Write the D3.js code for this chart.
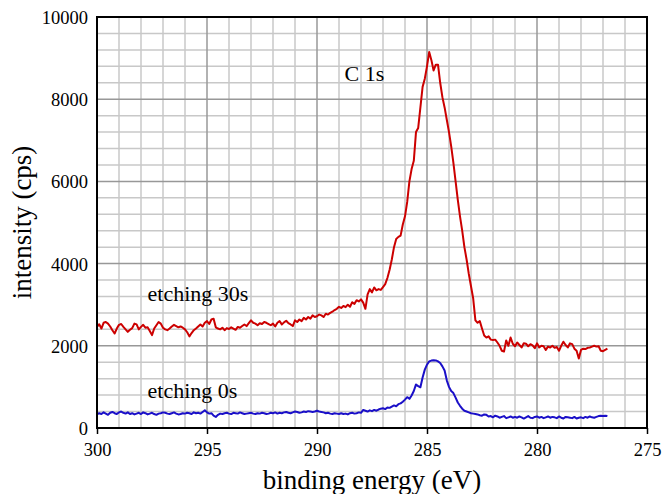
<!DOCTYPE html>
<html>
<head>
<meta charset="utf-8">
<script src="https://cdn.jsdelivr.net/npm/d3@7"></script>
<style>
  body { margin: 0; background: #fff; }
  svg { display: block; font-family: "Liberation Serif", "Times New Roman", serif; }
  .tick text { font-family: "Liberation Serif", "Times New Roman", serif; font-size: 18.5px; fill: #000; }
  .grid-minor { stroke: #c8c8c8; stroke-width: 1.5; }
  .grid-major { stroke: #989898; stroke-width: 1.5; }
</style>
</head>
<body>
<div id="wrapper"></div>
<script>
// spectra, 0.1 eV steps from 300 eV downwards
const energyStart = 300
const energyStep = 0.1

const etching30s = [
  2460, 2525, 2420, 2560, 2580, 2540, 2470, 2380, 2300, 2420,
  2510, 2530, 2460, 2400, 2340, 2390, 2430, 2540, 2520, 2400,
  2460, 2510, 2440, 2450, 2360, 2260, 2420, 2500, 2580, 2540,
  2440, 2400, 2380, 2420, 2470, 2510, 2480, 2450, 2470, 2440,
  2400, 2330, 2230, 2310, 2380, 2420, 2470, 2520, 2470, 2560,
  2600, 2530, 2640, 2660, 2450, 2420, 2400, 2440, 2380, 2430,
  2410, 2450, 2420, 2390, 2460, 2440, 2480, 2520, 2480, 2550,
  2620, 2560, 2540, 2500, 2550, 2530, 2580, 2560, 2530, 2500,
  2540, 2470, 2560, 2600, 2520, 2570, 2610, 2550, 2520, 2480,
  2620, 2580, 2640, 2600, 2680, 2640, 2700, 2660, 2740, 2700,
  2720, 2760, 2740, 2700, 2780, 2760, 2800, 2830, 2870, 2900,
  2950, 2920, 2970, 2940, 3000, 2950, 3060, 3020, 3110, 3080,
  3130, 3050, 2900, 3250, 3380, 3300, 3420, 3350, 3380, 3360,
  3430, 3500, 3650, 3850, 4100, 4400, 4600, 4650, 4680, 4950,
  5150, 5500, 6000, 6300, 6500, 7200, 7300, 7800, 8300, 8500,
  8800, 9150, 8950, 8700, 8840, 8840, 8400, 8050, 7800, 7500,
  7200, 6850, 6450, 6000, 5550, 5150, 4800, 4400, 4100, 3750,
  3450, 3150, 2620, 2560, 2600, 2420, 2250, 2200, 2230, 2150,
  2140, 2150, 2080, 2000, 1880, 1860, 2130, 2000, 2200, 2050,
  1990, 2080, 2020, 1960, 2060, 2050, 1990, 2040, 2010, 1940,
  2060, 1960, 2000, 1990, 1900, 1980, 1960, 2000, 1950, 1970,
  1880, 2000, 2100, 2020, 1960, 2060, 2040, 1930, 1880, 1690,
  1900, 1930, 1920, 1950, 1960, 1980, 2000, 1980, 1990, 1880,
  1870, 1900, 1930
]

const etching0s = [
  330, 360, 340, 380, 350, 320, 370, 390, 360, 340,
  380, 400, 370, 350, 380, 340, 360, 330, 350, 370,
  340, 380, 360, 330, 350, 370, 340, 320, 350, 360,
  380, 370, 350, 340, 360, 380, 350, 330, 340, 360,
  350, 370, 360, 340, 380, 360, 370, 350, 390, 430,
  380, 350, 360, 300, 270, 320, 350, 340, 360, 370,
  350, 340, 370, 360, 350, 380, 360, 340, 350, 360,
  370, 350, 340, 360, 350, 370, 360, 340, 350, 370,
  360, 380, 350, 370, 360, 380, 390, 370, 360, 380,
  400, 390, 370, 380, 400, 390, 410, 400, 390, 400,
  420, 400, 390, 380, 360, 370, 350, 340, 360, 350,
  340, 360, 340, 350, 330, 360, 370, 350, 360, 380,
  370, 440, 420, 400, 430, 410, 440, 420, 450, 470,
  480, 460, 500, 490, 520, 550, 530, 580, 600, 640,
  690, 750, 710, 790, 900, 1060, 1020, 990, 1230, 1420,
  1540, 1620, 1640, 1650, 1645, 1620, 1580, 1500, 1400, 1160,
  1000, 900, 850, 740, 620, 540, 470, 420, 400, 380,
  360, 350, 340, 330, 310, 300, 330, 320, 280, 290,
  260, 300, 280, 250, 270, 290, 240, 260, 280, 250,
  270, 250, 280, 260, 230, 260, 290, 250, 240, 270,
  280, 250, 270, 240, 260, 280, 250, 270, 260, 240,
  280, 250, 230, 270, 260, 250, 240, 270, 230, 250,
  260, 240, 270, 250, 280, 260, 250, 270, 290, 300,
  290, 300, 290
]

const xTicks = [300, 295, 290, 285, 280, 275]
const yTicks = [0, 2000, 4000, 6000, 8000, 10000]

const seriesNames = ["etching 30s", "etching 0s"]
const seriesColors = ["#cc0000", "#1a0fc8"]

const toPoints = values => values.map((v, i) => ({ energy: energyStart - i * energyStep, counts: v }))

let dimensions = {
  width: 662,
  height: 494,
  margin: { top: 17, right: 15, bottom: 66, left: 97 },
}
dimensions.boundedWidth = dimensions.width - dimensions.margin.left - dimensions.margin.right
dimensions.boundedHeight = dimensions.height - dimensions.margin.top - dimensions.margin.bottom

const wrapper = d3.select("#wrapper")
  .append("svg")
    .attr("width", dimensions.width)
    .attr("height", dimensions.height)

const bounds = wrapper.append("g")
  .attr("transform", `translate(${dimensions.margin.left},${dimensions.margin.top})`)

// scales (binding energy runs right to left)
const xScale = d3.scaleLinear()
  .domain([300, 275])
  .range([0, dimensions.boundedWidth])

const yScale = d3.scaleLinear()
  .domain([0, 10000])
  .range([dimensions.boundedHeight, 0])

// grid
const grid = bounds.append("g")
grid.selectAll(".vx")
  .data(d3.range(276, 300).filter(d => d % 5 !== 0))
  .enter().append("line")
    .attr("class", "grid-minor")
    .attr("x1", d => xScale(d)).attr("x2", d => xScale(d))
    .attr("y1", 0).attr("y2", dimensions.boundedHeight)
grid.selectAll(".hy")
  .data(d3.range(400, 10000, 400).filter(d => d % 2000 !== 0))
  .enter().append("line")
    .attr("class", "grid-minor")
    .attr("x1", 0).attr("x2", dimensions.boundedWidth)
    .attr("y1", d => yScale(d)).attr("y2", d => yScale(d))
grid.selectAll(".vxm")
  .data(xTicks.slice(1, -1))
  .enter().append("line")
    .attr("class", "grid-major")
    .attr("x1", d => xScale(d)).attr("x2", d => xScale(d))
    .attr("y1", 0).attr("y2", dimensions.boundedHeight)
grid.selectAll(".hym")
  .data(yTicks.slice(1, -1))
  .enter().append("line")
    .attr("class", "grid-major")
    .attr("x1", 0).attr("x2", dimensions.boundedWidth)
    .attr("y1", d => yScale(d)).attr("y2", d => yScale(d))

// lines
const lineGenerator = d3.line()
  .x(d => xScale(d.energy))
  .y(d => yScale(d.counts))

;[etching30s, etching0s].forEach((values, i) => {
  bounds.append("path")
    .datum(toPoints(values))
    .attr("d", lineGenerator)
    .attr("fill", "none")
    .attr("stroke", seriesColors[i])
    .attr("stroke-width", 2)
    .attr("stroke-linejoin", "round")
})

// frame
bounds.append("rect")
  .attr("width", dimensions.boundedWidth)
  .attr("height", dimensions.boundedHeight)
  .attr("fill", "none")
  .attr("stroke", "#000")
  .attr("stroke-width", 2)

// axes
const xAxisGenerator = d3.axisBottom(xScale)
  .tickValues(xTicks)
  .tickSize(6)
  .tickPadding(9)
  .tickFormat(d3.format("d"))

const xAxis = bounds.append("g")
  .call(xAxisGenerator)
  .attr("transform", `translate(0,${dimensions.boundedHeight})`)
xAxis.select(".domain").remove()
xAxis.selectAll(".tick line").attr("stroke", "#000").attr("stroke-width", 1.5)

const yAxisGenerator = d3.axisLeft(yScale)
  .tickValues(yTicks)
  .tickSize(0)
  .tickPadding(9)
  .tickFormat(d3.format("d"))

const yAxis = bounds.append("g").call(yAxisGenerator)
yAxis.select(".domain").remove()
yAxis.selectAll(".tick text").attr("dy", "0.35em")

bounds.append("text")
  .attr("x", dimensions.boundedWidth / 2)
  .attr("y", dimensions.boundedHeight + 61)
  .attr("text-anchor", "middle")
  .style("font-size", "27px")
  .text("binding energy (eV)")

bounds.append("text")
  .attr("transform", `translate(${-dimensions.margin.left + 31},${dimensions.boundedHeight / 2}) rotate(-90)`)
  .attr("text-anchor", "middle")
  .style("font-size", "27px")
  .text("intensity (cps)")

// annotations
const notes = [
  { label: "C 1s", energy: 288.75, counts: 8450 },
  { label: seriesNames[0], energy: 297.7, counts: 3080 },
  { label: seriesNames[1], energy: 297.7, counts: 730 },
]
bounds.selectAll(".note")
  .data(notes)
  .enter().append("text")
    .attr("x", d => xScale(d.energy))
    .attr("y", d => yScale(d.counts))
    .style("font-size", "22px")
    .text(d => d.label)
</script>
</body>
</html>
